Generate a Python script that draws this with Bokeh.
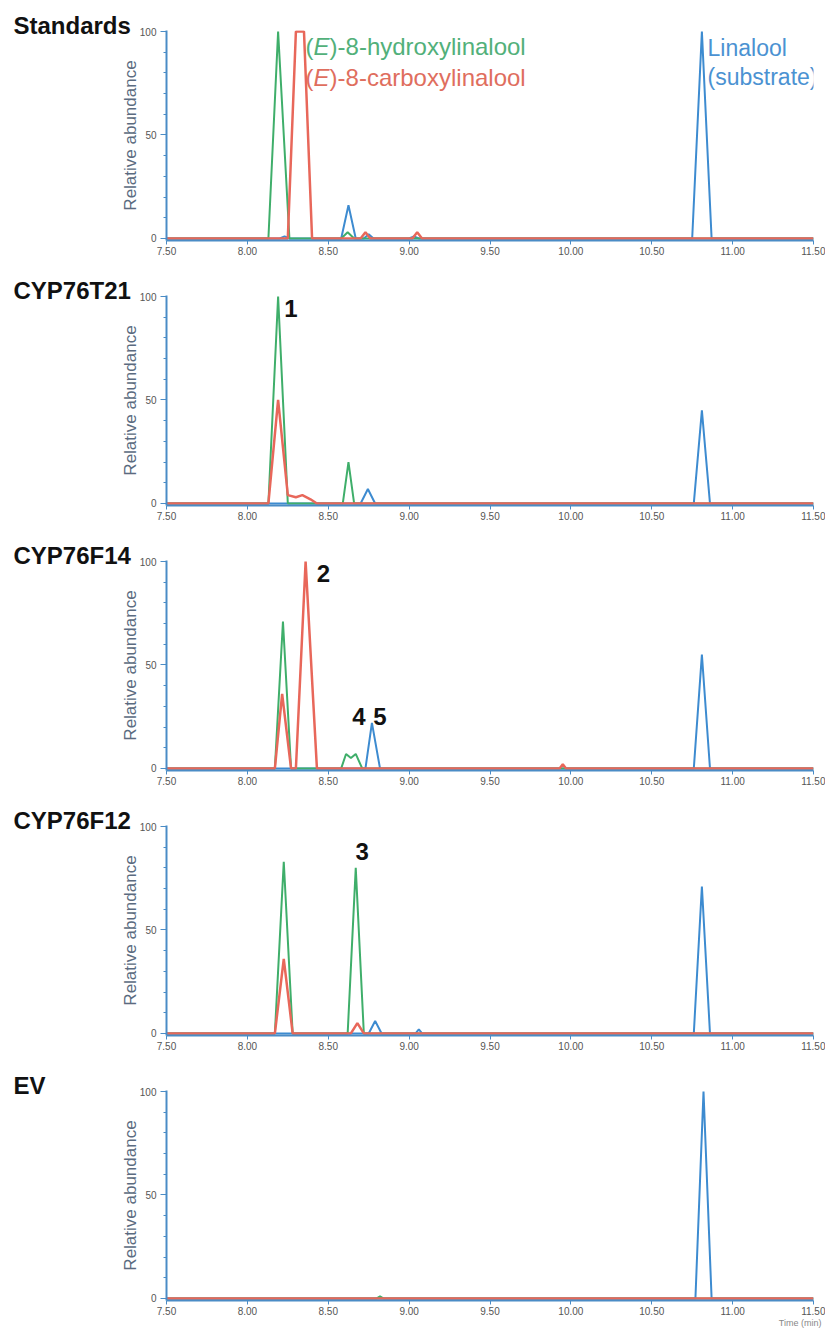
from bokeh.plotting import figure
from bokeh.layouts import column
from bokeh.models import Range1d, FixedTicker, PrintfTickFormatter, Label, Title
from bokeh.embed import file_html
from bokeh.resources import INLINE

# ---------------- data ----------------
panel_names = ["Standards", "CYP76T21", "CYP76F14", "CYP76F12", "EV"]
x_ticks = [7.5, 8.0, 8.5, 9.0, 9.5, 10.0, 10.5, 11.0, 11.5]
y_ticks = [0, 50, 100]
y_minor = [10, 20, 30, 40, 60, 70, 80, 90]

# Standards
std_blue_t = [7.50, 8.20, 8.23, 8.26, 8.58, 8.625, 8.67, 8.72, 8.75, 8.78, 9.00, 9.03, 9.06, 10.75, 10.81, 10.87, 11.50]
std_blue_v = [0, 0, 1, 0, 0, 16, 0, 0, 2, 0, 0, 1, 0, 0, 100, 0, 0]
std_green_t = [7.50, 8.13, 8.19, 8.26, 8.58, 8.62, 8.66, 11.50]
std_green_v = [0, 0, 100, 0, 0, 3, 0, 0]
std_red_t = [7.50, 8.25, 8.30, 8.35, 8.40, 8.70, 8.73, 8.76, 9.02, 9.05, 9.08, 11.50]
std_red_v = [0, 0, 100, 100, 0, 0, 3, 0, 0, 3, 0, 0]

# CYP76T21
t21_blue_t = [7.50, 8.70, 8.745, 8.79, 10.76, 10.81, 10.86, 11.50]
t21_blue_v = [0, 0, 7, 0, 0, 45, 0, 0]
t21_green_t = [7.50, 8.13, 8.19, 8.25, 8.59, 8.625, 8.66, 11.50]
t21_green_v = [0, 0, 100, 0, 0, 20, 0, 0]
t21_red_t = [7.50, 8.13, 8.19, 8.25, 8.30, 8.34, 8.39, 8.43, 11.50]
t21_red_v = [0, 0, 50, 4, 3, 4, 2, 0, 0]

# CYP76F14
f14_blue_t = [7.50, 8.73, 8.77, 8.82, 10.76, 10.81, 10.86, 11.50]
f14_blue_v = [0, 0, 22, 0, 0, 55, 0, 0]
f14_green_t = [7.50, 8.17, 8.22, 8.27, 8.58, 8.61, 8.64, 8.67, 8.71, 11.50]
f14_green_v = [0, 0, 71, 0, 0, 7, 5, 7, 0, 0]
f14_red_t = [7.50, 8.17, 8.215, 8.27, 8.30, 8.36, 8.43, 9.93, 9.95, 9.97, 11.50]
f14_red_v = [0, 0, 36, 0, 0, 100, 0, 0, 2, 0, 0]

# CYP76F12
f12_blue_t = [7.50, 8.75, 8.79, 8.83, 9.04, 9.06, 9.08, 10.76, 10.81, 10.86, 11.50]
f12_blue_v = [0, 0, 6, 0, 0, 2, 0, 0, 71, 0, 0]
f12_green_t = [7.50, 8.17, 8.225, 8.28, 8.62, 8.67, 8.72, 11.50]
f12_green_v = [0, 0, 83, 0, 0, 80, 0, 0]
f12_red_t = [7.50, 8.17, 8.225, 8.28, 8.64, 8.68, 8.72, 11.50]
f12_red_v = [0, 0, 36, 0, 0, 5, 0, 0]

# EV
ev_blue_t = [7.50, 10.77, 10.82, 10.87, 11.50]
ev_blue_v = [0, 0, 100, 0, 0]
ev_green_t = [7.50, 8.80, 8.82, 8.84, 11.50]
ev_green_v = [0, 0, 1, 0, 0]
ev_red_t = [7.50, 11.50]
ev_red_v = [0, 0]

# peak number annotations: (panel index, text, time, value)
peak_labels = [(1, "1", 8.27, 94), (2, "2", 8.47, 94), (2, "4", 8.69, 25),
               (2, "5", 8.82, 25), (3, "3", 8.71, 88)]

# ---------------- styling ----------------
BLUE = "#3d8bd0"
GREEN = "#3fae6a"
RED = "#e8675a"
AXIS = "#4a8cc6"
FONT = "Liberation Sans"

traces = [
    [(std_blue_t, std_blue_v), (std_green_t, std_green_v), (std_red_t, std_red_v)],
    [(t21_blue_t, t21_blue_v), (t21_green_t, t21_green_v), (t21_red_t, t21_red_v)],
    [(f14_blue_t, f14_blue_v), (f14_green_t, f14_green_v), (f14_red_t, f14_red_v)],
    [(f12_blue_t, f12_blue_v), (f12_green_t, f12_green_v), (f12_red_t, f12_red_v)],
    [(ev_blue_t, ev_blue_v), (ev_green_t, ev_green_v), (ev_red_t, ev_red_v)],
]
colors = [BLUE, GREEN, RED]
widths = [2, 2, 2.5]

figs = []
bottoms = [25, 25, 25, 25, 31]
for i, name in enumerate(panel_names):
    p = figure(frame_width=647, frame_height=210,
               x_range=Range1d(7.5, 11.5), y_range=Range1d(-1, 100.5),
               output_backend="svg", toolbar_location=None,
               min_border_left=166, min_border_right=12, min_border_top=30,
               min_border_bottom=bottoms[i])
    p.outline_line_color = None
    p.xgrid.visible = False
    p.ygrid.visible = False
    p.background_fill_color = "white"
    p.border_fill_color = "white"

    for (t, v), c, w in zip(traces[i], colors, widths):
        p.line(t, v, line_color=c, line_width=w)

    # y axis
    p.yaxis.ticker = FixedTicker(ticks=y_ticks, minor_ticks=y_minor)
    p.yaxis.axis_label = "Relative abundance"
    p.yaxis.axis_label_text_font = FONT
    p.yaxis.axis_label_text_font_size = "17px"
    p.yaxis.axis_label_text_font_style = "normal"
    p.yaxis.axis_label_text_color = "#5b6b80"
    p.yaxis.axis_label_standoff = -3
    p.yaxis.axis_line_color = AXIS
    p.yaxis.axis_line_width = 2
    p.yaxis.major_tick_line_color = AXIS
    p.yaxis.minor_tick_line_color = AXIS
    p.yaxis.major_tick_out = 6
    p.yaxis.major_tick_in = 0
    p.yaxis.minor_tick_out = 3
    p.yaxis.minor_tick_in = 0
    p.yaxis.major_label_text_font = FONT
    p.yaxis.major_label_text_font_size = "10px"
    p.yaxis.major_label_text_color = "#555555"
    p.yaxis.major_label_standoff = 4

    # x axis
    p.xaxis.ticker = FixedTicker(ticks=x_ticks)
    p.xaxis.formatter = PrintfTickFormatter(format="%.2f")
    p.xaxis.axis_line_color = AXIS
    p.xaxis.axis_line_width = 2
    p.xaxis.major_tick_line_color = AXIS
    p.xaxis.major_tick_out = 4
    p.xaxis.major_tick_in = 0
    p.xaxis.minor_tick_line_color = None
    p.xaxis.major_label_text_font = FONT
    p.xaxis.major_label_text_font_size = "10px"
    p.xaxis.major_label_text_color = "#555555"
    p.xaxis.major_label_standoff = 2

    # panel name, placed in the top border, left of the axis
    p.add_layout(Title(text=name, align="left", offset=-153, standoff=-16,
                       vertical_align="bottom", text_font=FONT, text_font_style="bold",
                       text_font_size="24px", text_color="#111111"), "above")
    figs.append(p)

# peak numbers
for (pi, txt, tx, ty) in peak_labels:
    figs[pi].add_layout(Label(x=tx, y=ty, text=txt, text_font=FONT, text_font_style="bold",
                              text_font_size="24px", text_color="#111111",
                              text_baseline="middle", text_align="center"))

# compound labels in the standards panel
p0 = figs[0]
def add_txt(p, x, y, text, color, xoff=0, style="normal", size="24px"):
    p.add_layout(Label(x=x, y=y, x_offset=xoff, text=text, text_font=FONT,
                       text_font_style=style, text_font_size=size, text_color=color,
                       text_baseline="middle", text_align="left"))

add_txt(p0, 8.36, 93, "(", "#52b07a")
add_txt(p0, 8.36, 93, "E", "#52b07a", xoff=8.0, style="italic")
add_txt(p0, 8.36, 93, ")-8-hydroxylinalool", "#52b07a", xoff=24.0)
add_txt(p0, 8.36, 78, "(", "#df6e5e")
add_txt(p0, 8.36, 78, "E", "#df6e5e", xoff=8.0, style="italic")
add_txt(p0, 8.36, 78, ")-8-carboxylinalool", "#df6e5e", xoff=24.0)
add_txt(p0, 10.845, 92, "Linalool", "#4b92d2", size="23px")
add_txt(p0, 10.845, 78, "(substrate)", "#4b92d2", size="23px")

# axis caption at bottom right of last panel (cut off in the original)
figs[-1].add_layout(Title(text="Time (min)", align="right", offset=-8, standoff=0,
                          vertical_align="top", text_font=FONT, text_font_size="9px",
                          text_font_style="normal", text_color="#888888"), "below")

layout = column(*figs)
open("out.html", "w").write(file_html(layout, INLINE))
